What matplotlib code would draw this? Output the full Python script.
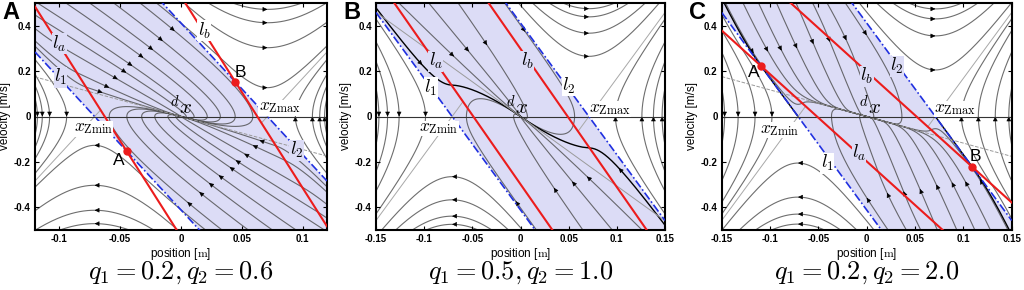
import numpy as np
import matplotlib.pyplot as plt

plt.rcParams['font.family'] = ['Liberation Sans', 'DejaVu Sans']
plt.rcParams['mathtext.fontset'] = 'cm'

# panel settings
PANELS = ['A', 'B', 'C']
CAPTIONS = [r'$q_1 = 0.2, q_2 = 0.6$', r'$q_1 = 0.5, q_2 = 1.0$', r'$q_1 = 0.2, q_2 = 2.0$']
X_LIMITS = [0.12, 0.15, 0.15]
V_LIMIT = 0.5
X_TICKS = [[-0.1, -0.05, 0, 0.05, 0.1],
           [-0.15, -0.1, -0.05, 0, 0.05, 0.1, 0.15],
           [-0.15, -0.1, -0.05, 0, 0.05, 0.1, 0.15]]
X_TICK_LABELS = [['-0.1', '-0.05', '0', '0.05', '0.1'],
                 ['-0.15', '-0.1', '-0.05', '0', '0.05', '0.1', '0.15'],
                 ['-0.15', '-0.1', '-0.05', '0', '0.05', '0.1', '0.15']]
V_TICKS = [-0.4, -0.2, 0, 0.2, 0.4]
V_TICK_LABELS = ['-0.4', '-0.2', '0', '0.2', '0.4']

# model: x'' = w^2 (x - z), z = clip(gx*x + gv*v, -zmax, zmax)
OMEGA = 5.8
Z_MAX = 0.071
GAIN_X = [1.132, 1.45, 1.38]
GAIN_V = [0.134, 0.238, 0.359]
SHOW_POINTS = [True, False, True]
DARK_FROM_POINTS = [False, False, True]

# trajectories inside the band, read at their arrows (mirror image drawn too)
INNER_X = [[0.0645, 0.059, 0.052, 0.045, 0.040, 0.031, 0.023, 0.015, 0.0052],
           [0.069, 0.0536, 0.0346, -0.005],
           [0.0, 0.021, 0.038, 0.055, 0.072, 0.088, 0.102, 0.117]]
INNER_V = [[-0.105, -0.127, -0.164, -0.193, -0.223, -0.259, -0.293, -0.333, -0.377],
           [-0.264, -0.286, -0.314, -0.373],
           [-0.358, -0.336, -0.329, -0.319, -0.300, -0.290, -0.286, -0.278]]
# dark trajectories (arrow points)
DARK_X = [[], [0.102], []]
DARK_V = [[], [-0.227], []]
# side curves, x where they cross v = 0
SIDE_X = [[0.094, 0.108, 0.114, 0.118],
          [0.0986, 0.126, 0.138, 0.147],
          [0.098, 0.1155, 0.133, 0.147]]
# top / bottom curves, v at the vertex x = zmax
VERTEX_V = [[0.127, 0.303, 0.413, 0.472],
            [0.265, 0.367, 0.439, 0.475],
            [0.205, 0.355, 0.43, 0.474]]

# label positions (x, v)
LA_POS = [(-0.100, 0.32), (-0.088, 0.243), (-0.008, -0.162)]
LB_POS = [(0.019, 0.378), (0.007, 0.243), (0.0, 0.178)]
L1_POS = [(-0.099, 0.173), (-0.093, 0.127), (-0.041, -0.206)]
L2_POS = [(0.095, -0.149), (0.050, 0.135), (0.031, 0.222)]
DX_POS = [(0.0, 0.045), (-0.0035, 0.044), (0.0035, 0.044)]
ZMAX_POS = [(0.081, 0.038), (0.093, 0.033), (0.0915, 0.033)]
ZMIN_POS = [(-0.072, -0.054), (-0.085, -0.053), (-0.0896, -0.061)]
PA_POS = [(-0.051, -0.193), None, (-0.117, 0.193)]
PB_POS = [(0.049, 0.195), None, (0.112, -0.177)]
SLOW_STYLE = ['--', '-', '--']

AX_LEFT = [35, 376, 721.7]
AX_WIDTH = [292, 289, 290]

SHADE = '#dcdcf6'
RED = '#ec1c1c'
BLUE = '#2030e0'
TRAJ = '#4a4a4a'


def field(x, v, gx, gv):
    z = np.clip(gx * x + gv * v, -Z_MAX, Z_MAX)
    return v, OMEGA ** 2 * (x - z)


def trace(x0, v0, gx, gv, xlim, sign, steps=2500, h=0.002):
    pts = [(x0, v0)]
    x, v = x0, v0
    h = h * sign
    for _ in range(steps):
        k1 = field(x, v, gx, gv)
        k2 = field(x + h / 2 * k1[0], v + h / 2 * k1[1], gx, gv)
        k3 = field(x + h / 2 * k2[0], v + h / 2 * k2[1], gx, gv)
        k4 = field(x + h * k3[0], v + h * k3[1], gx, gv)
        x = x + h / 6 * (k1[0] + 2 * k2[0] + 2 * k3[0] + k4[0])
        v = v + h / 6 * (k1[1] + 2 * k2[1] + 2 * k3[1] + k4[1])
        pts.append((x, v))
        if abs(x) > xlim + 0.01 or abs(v) > V_LIMIT + 0.03:
            break
    return np.array(pts)


def trajectory(ax, x0, v0, gx, gv, xlim, color=TRAJ, lw=0.8, alpha=0.8, arrow=True):
    back = trace(x0, v0, gx, gv, xlim, -1)
    fwd = trace(x0, v0, gx, gv, xlim, 1)
    pts = np.vstack([back[::-1], fwd[1:]])
    ax.plot(pts[:, 0], pts[:, 1], color=color, lw=lw, alpha=alpha, zorder=1)
    if arrow:
        fx, fv = field(x0, v0, gx, gv)
        dx, dv = fx / (2 * xlim), fv / (2 * V_LIMIT)
        n = np.hypot(dx, dv)
        if n > 0:
            tail = (x0 - 0.014 * 2 * xlim * dx / n, v0 - 0.014 * 2 * V_LIMIT * dv / n)
            ax.annotate('', xy=(x0, v0), xytext=tail,
                        arrowprops=dict(arrowstyle='-|>', color='black', lw=0.4,
                                        mutation_scale=7, shrinkA=0, shrinkB=0),
                        zorder=2)


def in_band(x, v):
    xi = x + v / OMEGA
    return -Z_MAX < xi < Z_MAX


def label(ax, pos, text, size=13.5):
    bg = SHADE if in_band(*pos) else 'white'
    ax.text(pos[0], pos[1], text, fontsize=size, ha='center', va='center', zorder=6,
            bbox=dict(fc=bg, ec='none', pad=0.3))


fig = plt.figure(figsize=(10.24, 2.9), dpi=100)

for i, name in enumerate(PANELS):
    xlim = X_LIMITS[i]
    gx, gv = GAIN_X[i], GAIN_V[i]
    ax = fig.add_axes([AX_LEFT[i] / 1024, 60 / 290, AX_WIDTH[i] / 1024, 227 / 290])
    ax.set_xlim(-xlim, xlim)
    ax.set_ylim(-V_LIMIT, V_LIMIT)

    xs = np.linspace(-xlim, xlim, 200)
    vs = np.linspace(-V_LIMIT, V_LIMIT, 200)

    # viable band between l1 and l2
    ax.fill_betweenx(vs, -Z_MAX - vs / OMEGA, Z_MAX - vs / OMEGA, color=SHADE, lw=0, zorder=0)

    # slow eigen direction of the linear part
    p = OMEGA ** 2 * gv
    q = OMEGA ** 2 * (gx - 1)
    lam = (-p + np.sqrt(p * p - 4 * q)) / 2
    ax.plot(xs, lam * xs, color='#9a9a9a', lw=0.7, ls=SLOW_STYLE[i], zorder=1.5)

    # unstable asymptotes of the saturated saddles
    xc = Z_MAX * (1 + gv * OMEGA) / (gx + gv * OMEGA)
    xr = np.array([xc, xlim])
    ax.plot(xr, OMEGA * (xr - Z_MAX), color='#a8a8a8', lw=0.7, zorder=1.5)
    ax.plot(-xr, -OMEGA * (xr - Z_MAX), color='#a8a8a8', lw=0.7, zorder=1.5)

    # trajectories
    for sx, sv in zip(INNER_X[i], INNER_V[i]):
        trajectory(ax, sx, sv, gx, gv, xlim)
        trajectory(ax, -sx, -sv, gx, gv, xlim)
    for sx, sv in zip(DARK_X[i], DARK_V[i]):
        trajectory(ax, sx, sv, gx, gv, xlim, color='black', lw=1.0, alpha=1)
        trajectory(ax, -sx, -sv, gx, gv, xlim, color='black', lw=1.0, alpha=1)
    for sx in SIDE_X[i]:
        trajectory(ax, sx, 0.0, gx, gv, xlim)
        trajectory(ax, -sx, 0.0, gx, gv, xlim)
    for sv in VERTEX_V[i]:
        trajectory(ax, Z_MAX, sv, gx, gv, xlim)
        trajectory(ax, -Z_MAX, -sv, gx, gv, xlim)

    # points A and B: where l_a meets l_1 and l_b meets l_2
    if SHOW_POINTS[i]:
        xa = Z_MAX * (gv * OMEGA - 1) / (gx - gv * OMEGA)
        va = -OMEGA * (xa + Z_MAX)
        if DARK_FROM_POINTS[i]:
            trajectory(ax, xa, va, gx, gv, xlim, color='black', lw=1.0, alpha=1, arrow=False)
            trajectory(ax, -xa, -va, gx, gv, xlim, color='black', lw=1.0, alpha=1, arrow=False)
        ax.plot([xa, -xa], [va, -va], 'o', color=RED, ms=5, zorder=5)
        ax.text(*PA_POS[i], 'A', fontsize=12.5, ha='center', va='center', zorder=6)
        ax.text(*PB_POS[i], 'B', fontsize=12.5, ha='center', va='center', zorder=6)

    ax.axhline(0, color='#333333', lw=0.8, zorder=2)

    # l1, l2 and la, lb
    ax.plot(xs, -OMEGA * (xs + Z_MAX), color=BLUE, lw=1.2, ls=(0, (5, 1.5, 1, 1.5)), zorder=3)
    ax.plot(xs, -OMEGA * (xs - Z_MAX), color=BLUE, lw=1.2, ls=(0, (5, 1.5, 1, 1.5)), zorder=3)
    ax.plot(xs, (-Z_MAX - gx * xs) / gv, color=RED, lw=1.5, zorder=3)
    ax.plot(xs, (Z_MAX - gx * xs) / gv, color=RED, lw=1.5, zorder=3)

    label(ax, LA_POS[i], r'$l_a$')
    label(ax, LB_POS[i], r'$l_b$')
    label(ax, L1_POS[i], r'$l_1$')
    label(ax, L2_POS[i], r'$l_2$')
    ax.text(*DX_POS[i], r'${}^{d}x$', fontsize=15, ha='center', va='center', zorder=6)
    label(ax, ZMAX_POS[i], r'$x_{\mathrm{Zmax}}$', size=12.5)
    label(ax, ZMIN_POS[i], r'$x_{\mathrm{Zmin}}$', size=12.5)

    ax.set_xticks(X_TICKS[i])
    ax.set_xticklabels(X_TICK_LABELS[i])
    ax.set_yticks(V_TICKS)
    ax.set_yticklabels(V_TICK_LABELS)
    ax.tick_params(direction='in', length=3, width=0.8, top=True, right=True,
                   labelsize=7, pad=3)
    for t in ax.get_xticklabels() + ax.get_yticklabels():
        t.set_fontweight('bold')
    for s in ax.spines.values():
        s.set_linewidth(1.5)
    ax.set_xlabel(r'position [$\mathrm{m}$]', fontsize=8.5, labelpad=1)
    ax.set_ylabel('velocity [m/s]', fontsize=8.5, labelpad=2)

    cx = (AX_LEFT[i] + AX_WIDTH[i] / 2) / 1024
    fig.text(cx, 17 / 290, CAPTIONS[i], fontsize=19, ha='center', va='center')
    fig.text((AX_LEFT[i] - 33) / 1024, 1 - 1 / 290, name, fontsize=17, fontweight='bold',
             ha='left', va='top')

fig.savefig('out.png', dpi=100)
